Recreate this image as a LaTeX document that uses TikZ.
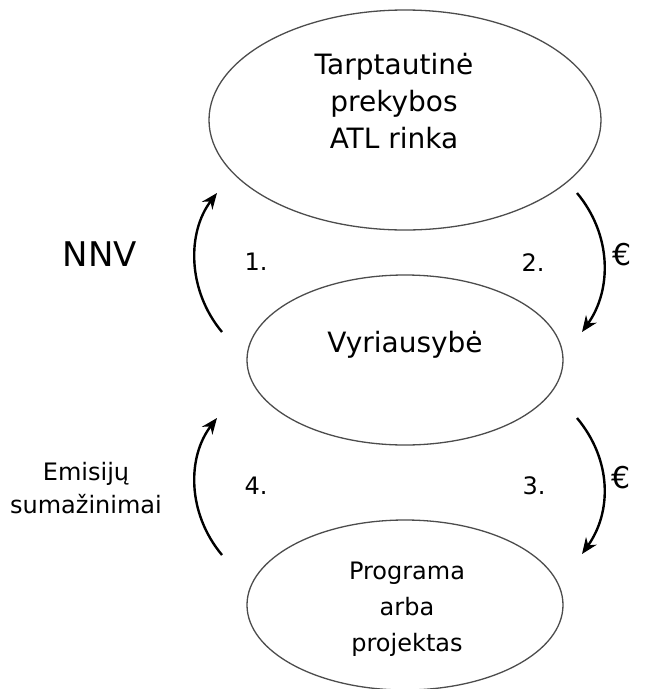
\documentclass[tikz,border=0pt]{standalone}
\usepackage{fontspec}
\setmainfont{DejaVu Sans}
\usetikzlibrary{shapes.geometric,arrows.meta}
\begin{document}
\begin{tikzpicture}[x=1pt,y=-1pt,
  oval/.style={ellipse,draw=black!70,line width=1.3pt,inner sep=0pt},
  flow/.style={line width=2.4pt,-{Stealth[length=16pt,width=13pt]}},
  lbl/.style={align=center,inner sep=0pt}]
\useasboundingbox (0,0) rectangle (652,689);

% the three actors
\node[oval,minimum width=392pt,minimum height=220pt] (market) at (405,120) {};
\node[oval,minimum width=316pt,minimum height=170pt] (gov) at (405,360) {};
\node[oval,minimum width=316pt,minimum height=170pt] (proj) at (405,605) {};

\node[lbl,font=\fontsize{28}{37}\selectfont] (marketText) at (394,101)
  {Tarptautinė\\prekybos\\ATL rinka};
\node[lbl,font=\fontsize{28}{34}\selectfont] (govText) at (405,345) {Vyriausybė};
\node[lbl,font=\fontsize{24}{36}\selectfont] (projText) at (407,609)
  {Programa\\arba\\projektas};

% flow arrows between the levels
\coordinate (a1s) at (222,332); \coordinate (a1e) at (217,193);
\coordinate (a2s) at (577,193); \coordinate (a2e) at (582,332);
\coordinate (a3s) at (577,418); \coordinate (a3e) at (582,554);
\coordinate (a4s) at (222,555); \coordinate (a4e) at (217,418);

\draw[flow] (a1s) .. controls (187,290) and (187,232) .. (a1e);
\draw[flow] (a2s) .. controls (612,235) and (612,290) .. (a2e);
\draw[flow] (a3s) .. controls (612,460) and (612,512) .. (a3e);
\draw[flow] (a4s) .. controls (187,513) and (187,457) .. (a4e);

% step numbers and flow labels
\node[lbl,font=\fontsize{24}{28}\selectfont] (n1) at (256,262) {1.};
\node[lbl,font=\fontsize{24}{28}\selectfont] (n2) at (533,263) {2.};
\node[lbl,font=\fontsize{24}{28}\selectfont] (n3) at (534,486) {3.};
\node[lbl,font=\fontsize{24}{28}\selectfont] (n4) at (256,486) {4.};

\node[lbl,font=\fontsize{34}{38}\selectfont] (nnv) at (100,254) {NNV};
\node[lbl,font=\fontsize{30}{34}\selectfont] (eur1) at (622,255) {€};
\node[lbl,font=\fontsize{30}{34}\selectfont] (eur2) at (621,478) {€};
\node[lbl,font=\fontsize{24}{33}\selectfont] (cut) at (86,488) {Emisijų\\sumažinimai};
\end{tikzpicture}
\end{document}
